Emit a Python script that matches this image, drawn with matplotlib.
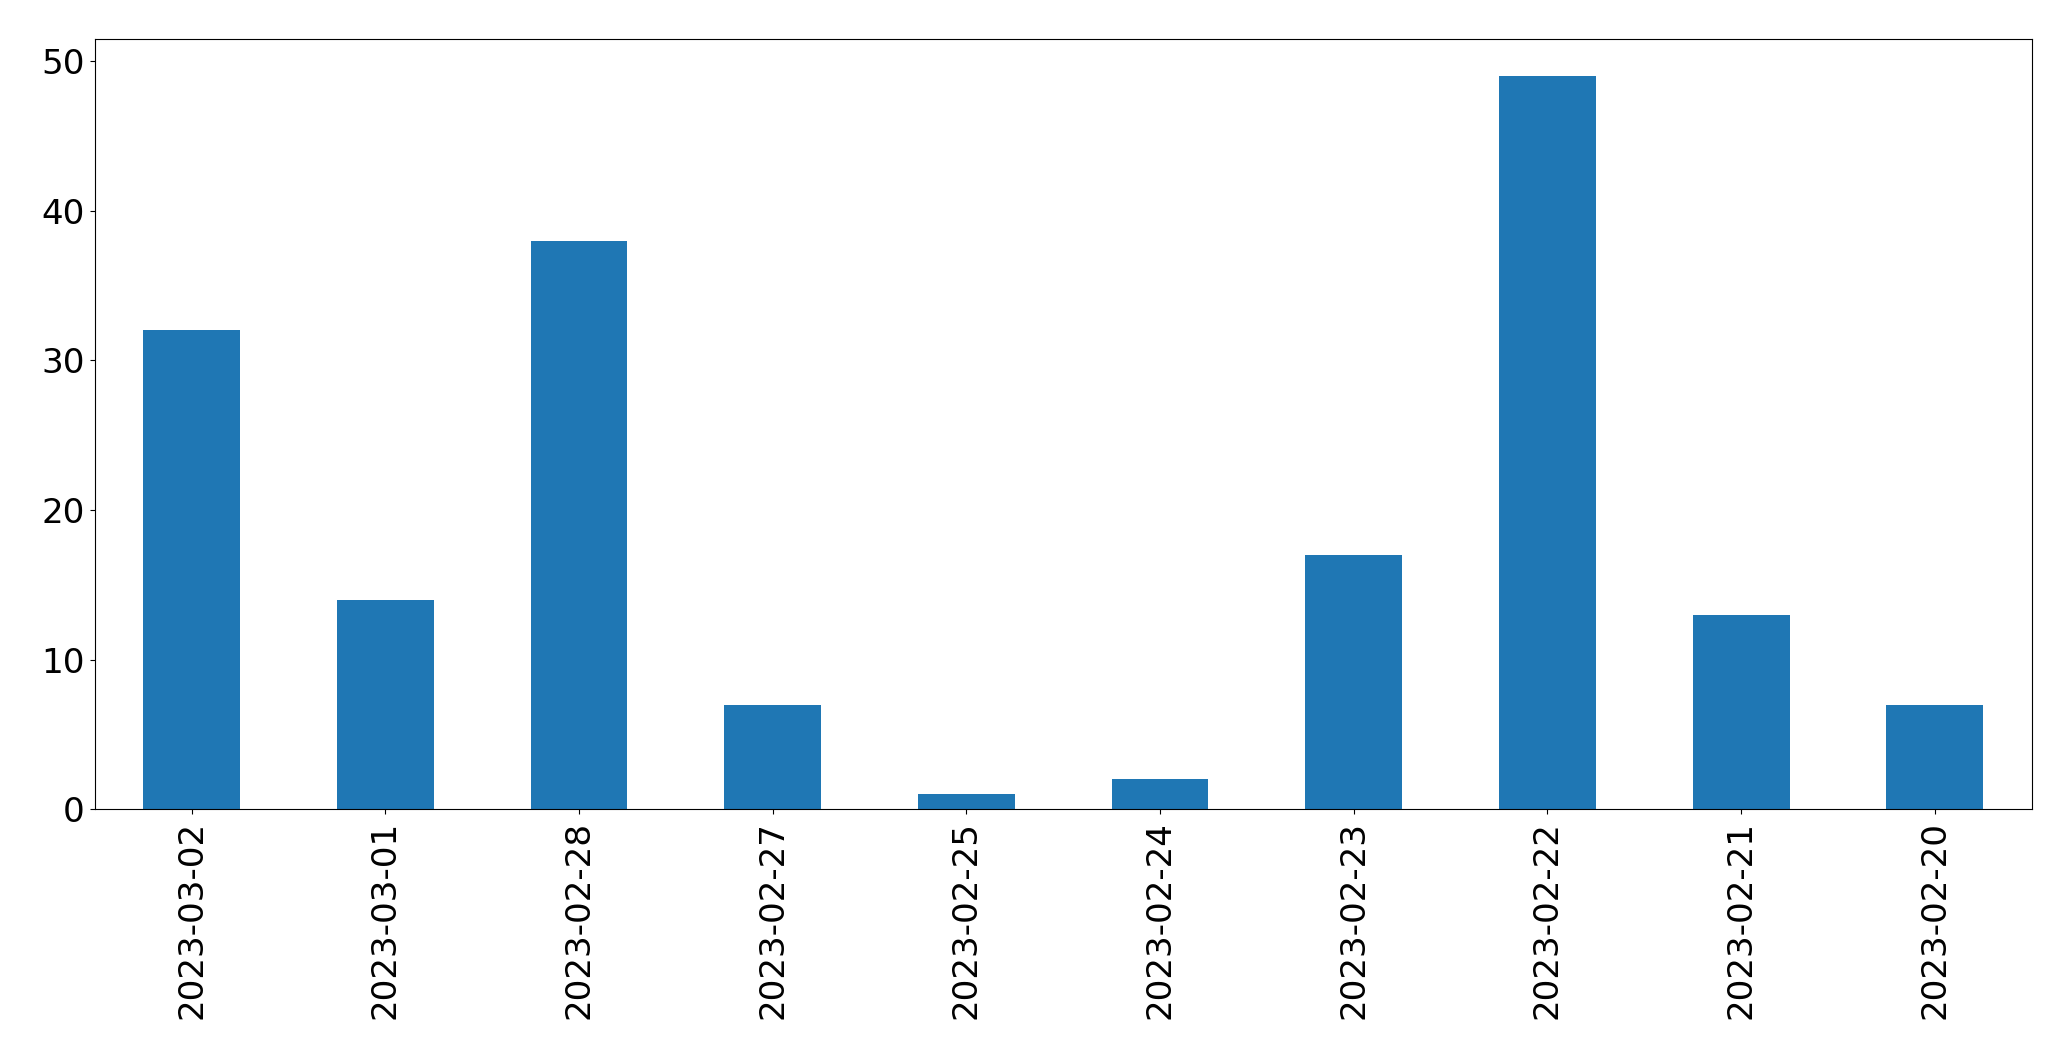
import matplotlib
matplotlib.use("Agg")
import matplotlib.pyplot as plt

dates = ["2023-03-02", "2023-03-01", "2023-02-28", "2023-02-27", "2023-02-25",
         "2023-02-24", "2023-02-23", "2023-02-22", "2023-02-21", "2023-02-20"]
counts = [32, 14, 38, 7, 1, 2, 17, 49, 13, 7]

W, H = 2071, 1061
L, R, T, B = 94.7, 2031.7, 39.3, 809.3
fig = plt.figure(figsize=(W / 100, H / 100), dpi=100)
ax = fig.add_axes([L / W, 1 - B / H, (R - L) / W, (B - T) / H])
x = list(range(len(dates)))
ax.bar(x, counts, width=0.5, color="#1f77b4")
ax.set_xlim(-0.5, len(dates) - 0.5)
ax.set_ylim(0, 51.45)
ax.set_xticks(x)
ax.set_xticklabels(dates, rotation=90)
ax.tick_params(labelsize=24.6)
ax.tick_params(axis="x", pad=5)
fig.savefig("out.png", dpi=100)
